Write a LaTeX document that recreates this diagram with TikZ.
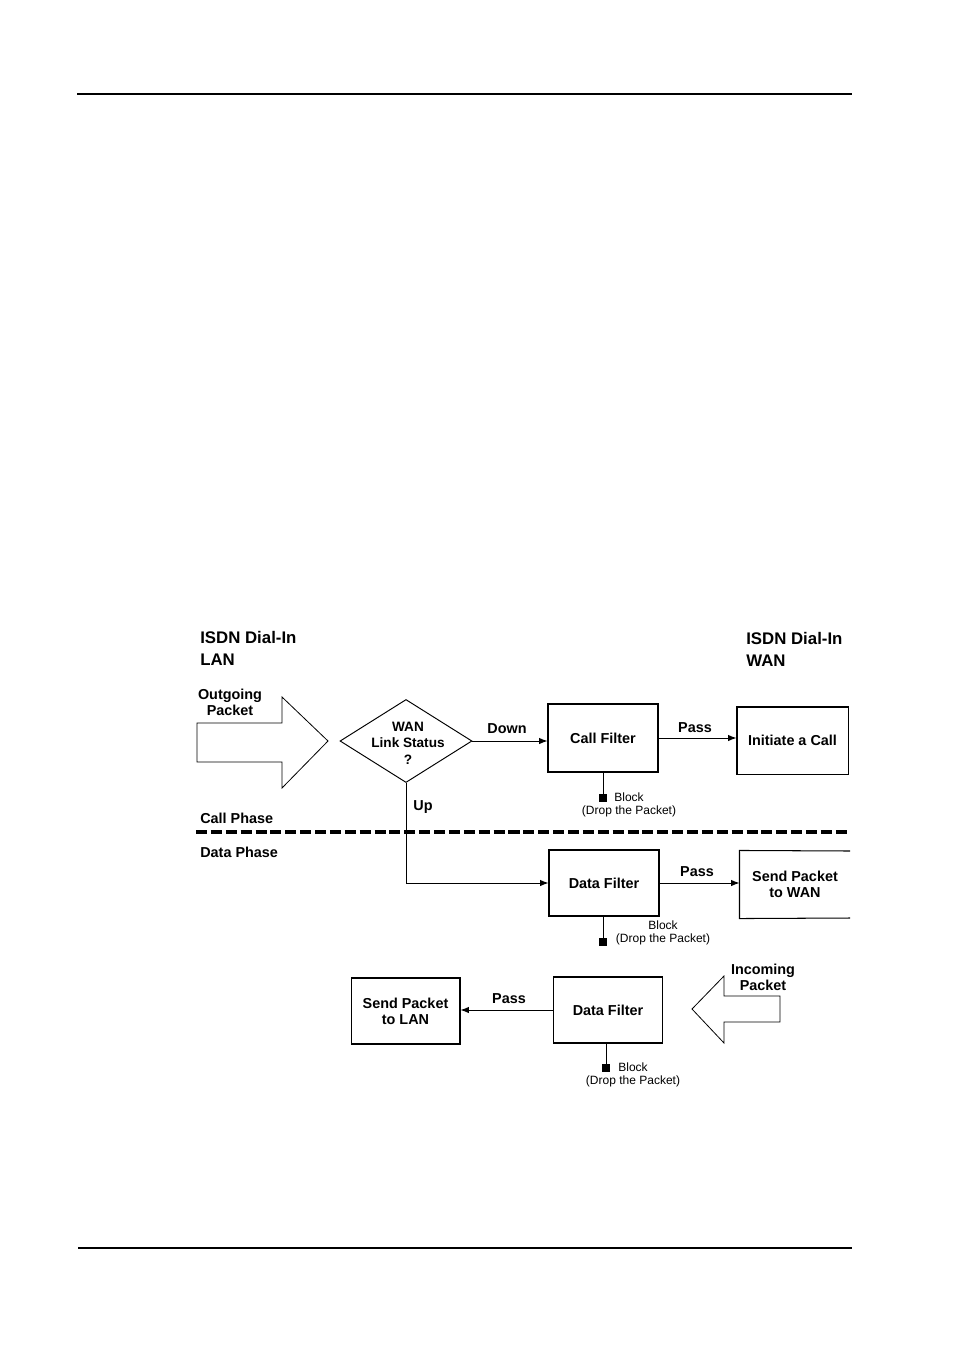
\documentclass[tikz,border=0pt]{standalone}
\usepackage{fontspec}
\setmainfont{Liberation Sans}
\usetikzlibrary{arrows.meta,positioning,shapes.geometric}

\begin{document}
\begin{tikzpicture}[x=0.625pt,y=-0.625pt,
  box/.style={draw,line width=0.65pt,align=center,minimum width=68.75pt,minimum height=41.25pt,inner sep=0pt,font=\fontsize{9}{10}\selectfont\bfseries},
  decide/.style={draw,line width=0.6pt,shape=diamond,inner sep=0pt,minimum width=82.5pt,minimum height=51.9pt},
  lbl/.style={align=center,inner sep=0pt,font=\fontsize{9}{10}\selectfont\bfseries},
  hdr/.style={align=left,inner sep=0pt,font=\fontsize{10.5}{13.75}\selectfont\bfseries},
  note/.style={align=center,inner sep=0pt,font=\fontsize{7.5}{8.1}\selectfont},
  sq/.style={fill,inner sep=0pt,minimum size=4.4pt},
  fatarrow/.style={draw,line width=0.5pt},
  arrow/.style={-{Latex[length=5.2pt,width=4pt]},line width=0.6pt}
]
\useasboundingbox (0,0) rectangle (954,1350);
% page rules
\draw[line width=0.9pt] (77,94) -- (852,94);
\draw[line width=0.9pt] (78,1248) -- (852,1248);

% headings
\node[hdr,anchor=north west] (lanhdr) at (200,631) {ISDN Dial-In\\LAN};
\node[hdr,anchor=north west] (wanhdr) at (746,632) {ISDN Dial-In\\WAN};

% outgoing packet
\draw[fatarrow] (197,723) -- (282,723) -- (282,697) -- (328,741) -- (282,788) -- (282,762) -- (197,762) -- cycle;
\node[lbl] (outpkt) at (230,702) {Outgoing\\Packet};

% call phase
\node[decide] (status) at (406,741) {};
\node[lbl,font=\fontsize{8.5}{10.3}\selectfont\bfseries] (statustxt) at (408,743) {WAN\\Link Status\\?};
\node[box,minimum height=42.5pt] (callf) at (603,738) {Call Filter};
\node[box,minimum width=69.4pt,minimum height=41.9pt] (initc) at (792.5,740.5) {Initiate a Call};
\node[lbl] (down) at (507,729) {Down};
\node[lbl] (pass1) at (695,728) {Pass};
\node[sq] (blk1) at (603,798) {};
\node[note] (drop1) at (629,805) {Block\\(Drop the Packet)};
\draw[arrow] (status.east) -- (status.east -| callf.west);
\draw[arrow] (callf.east) -- (callf.east -| initc.west);
\draw[line width=0.6pt] (callf.south) -- (blk1);

% phase divider
\node[lbl,anchor=west] (callph) at (200,818) {Call Phase};
\draw[line width=2pt,dash pattern=on 6.9pt off 2.4pt] (196,832) -- (850,832);
\node[lbl,anchor=west] (dataph) at (200,852) {Data Phase};
\node[lbl] (up) at (423,807) {Up};

% data phase, outgoing
\node[box] (dataf1) at (604,883) {Data Filter};
\node[box,draw=none,minimum width=68.75pt,minimum height=41.9pt] (sendw) at (795,884.5) {Send Packet\\to WAN};
\draw[line width=0.65pt] (850,851) -- (sendw.north west) -- (sendw.south west) -- (850,918);
\node[lbl] (pass2) at (697,872) {Pass};
\node[sq] (blk2) at (603,942) {};
\node[note] (drop2) at (663,933) {Block\\(Drop the Packet)};
\draw[arrow] (status.south) |- (dataf1.west);
\draw[arrow] (dataf1.east) -- (dataf1.east -| sendw.west);
\draw[line width=0.6pt] (blk2 |- dataf1.south) -- (blk2);

% data phase, incoming
\draw[fatarrow] (780,996) -- (724,996) -- (724,976) -- (692,1009) -- (724,1043) -- (724,1022) -- (780,1022) -- cycle;
\node[lbl] (inpkt) at (763,977) {Incoming\\Packet};
\node[box,minimum width=68.1pt] (dataf2) at (608,1010) {Data Filter};
\node[box,minimum width=68.1pt] (sendl) at (405.5,1011) {Send Packet\\to LAN};
\node[lbl] (pass3) at (509,999) {Pass};
\node[sq] (blk3) at (606,1068) {};
\node[note] (drop3) at (633,1075) {Block\\(Drop the Packet)};
\draw[arrow] (dataf2.west) -- (dataf2.west -| sendl.east);
\draw[line width=0.6pt] (blk3 |- dataf2.south) -- (blk3);
\end{tikzpicture}
\end{document}
